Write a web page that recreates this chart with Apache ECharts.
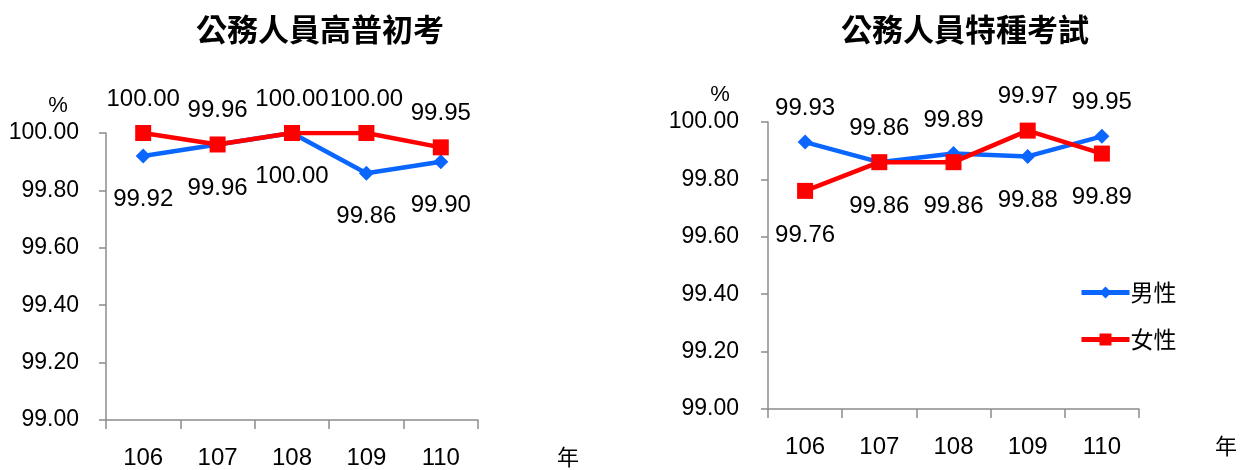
<!DOCTYPE html>
<html>
<head>
<meta charset="utf-8">
<script src="https://cdn.jsdelivr.net/npm/echarts@6/dist/echarts.min.js"></script>
<style>
  html, body { margin: 0; padding: 0; background: #fff; }
  #chart { width: 1241px; height: 470px; }
</style>
</head>
<body>
<div id="chart"></div>
<script>
// Years (ROC calendar) on the category axis
const years = ['106', '107', '108', '109', '110'];

// 公務人員高普初考 — pass rate (%)
const exam1Male = [99.92, 99.96, 100.00, 99.86, 99.90];
const exam1Female = [100.00, 99.96, 100.00, 100.00, 99.95];

// 公務人員特種考試 — pass rate (%)
const exam2Male = [99.93, 99.86, 99.89, 99.88, 99.95];
const exam2Female = [99.76, 99.86, 99.86, 99.97, 99.89];

const titles = ['公務人員高普初考', '公務人員特種考試'];
const seriesNames = ['男性', '女性'];
const yTicks = { min: 99, max: 100, step: 0.2 };

const BLUE = '#0a66ff';
const RED = '#ff0000';
const AXIS = '#8c8c8c';
const FONT = '"Liberation Sans", Arial, sans-serif';
const CJK = '"Noto Sans CJK TC", "Noto Sans CJK SC", sans-serif';

// Higher series at each year gets its label above the marker, the lower one below.
function labelled(values, other, winsTie) {
  return values.map((v, i) => {
    const above = v > other[i] || (v === other[i] && winsTie);
    return {
      value: v,
      label: above ? { position: 'top', distance: 14 } : { position: 'bottom', distance: 24 }
    };
  });
}

const grids = [
  { left: 106, top: 133, width: 372, height: 288 },
  { left: 768, top: 122, width: 371, height: 287 }
];

function xAxis(idx, nameGap) {
  return {
    type: 'category',
    gridIndex: idx,
    data: years,
    boundaryGap: true,
    name: '年',
    nameLocation: 'end',
    nameGap: nameGap,
    nameMoveOverlap: false,
    nameTextStyle: { fontFamily: CJK, fontSize: 22, color: '#000', align: 'left', verticalAlign: 'top', padding: [26, 0, 0, 0] },
    axisLine: { lineStyle: { color: AXIS, width: 1.5 } },
    axisTick: { show: true, length: 9, lineStyle: { color: AXIS, width: 1.5 } },
    axisLabel: { margin: 26, fontFamily: FONT, fontSize: 24, color: '#000' }
  };
}

function yAxis(idx, labelMargin) {
  return {
    type: 'value',
    gridIndex: idx,
    min: yTicks.min,
    max: yTicks.max,
    interval: yTicks.step,
    name: '%',
    nameLocation: 'end',
    nameGap: 16,
    nameTextStyle: { fontFamily: FONT, fontSize: 22, color: '#000', align: 'center', padding: [0, 96, 0, 0] },
    axisLine: { show: true, lineStyle: { color: AXIS, width: 1.5 } },
    axisTick: { show: true, length: 7, lineStyle: { color: AXIS, width: 1.5 } },
    splitLine: { show: false },
    axisLabel: {
      margin: labelMargin,
      fontFamily: FONT, fontSize: 23, color: '#000',
      formatter: v => v.toFixed(2)
    }
  };
}

function lineSeries(name, idx, data, color, symbol, size) {
  return {
    type: 'line',
    name: name,
    xAxisIndex: idx,
    yAxisIndex: idx,
    data: data,
    symbol: symbol,
    symbolSize: size,
    lineStyle: { color: color, width: 4.5 },
    itemStyle: { color: color },
    label: {
      show: true,
      fontFamily: FONT,
      fontSize: 24,
      color: '#000',
      formatter: p => p.value.toFixed(2)
    },
    emphasis: { disabled: true },
    animation: false,
    z: name === seriesNames[1] ? 3 : 2
  };
}

const option = {
  backgroundColor: '#fff',
  animation: false,
  title: [
    { text: titles[0], left: 315, top: 9, textAlign: 'center',
      textStyle: { fontFamily: CJK, fontSize: 31, fontWeight: 'bold', color: '#000' } },
    { text: titles[1], left: 960, top: 9, textAlign: 'center',
      textStyle: { fontFamily: CJK, fontSize: 31, fontWeight: 'bold', color: '#000' } }
  ],
  legend: {
    data: seriesNames,
    orient: 'vertical',
    left: 1074,
    top: 276,
    itemWidth: 48,
    itemHeight: 15,
    itemGap: 24,
    lineStyle: { width: 5 },
    textStyle: { fontFamily: CJK, fontSize: 23, color: '#000', padding: [0, 0, 0, -4] }
  },
  grid: grids,
  xAxis: [xAxis(0, 79), xAxis(1, 76)],
  yAxis: [yAxis(0, 27), yAxis(1, 29)],
  series: [
    lineSeries(seriesNames[0], 0, labelled(exam1Male, exam1Female, false), BLUE, 'diamond', 15),
    lineSeries(seriesNames[1], 0, labelled(exam1Female, exam1Male, true), RED, 'rect', 16),
    lineSeries(seriesNames[0], 1, labelled(exam2Male, exam2Female, true), BLUE, 'diamond', 15),
    lineSeries(seriesNames[1], 1, labelled(exam2Female, exam2Male, false), RED, 'rect', 16)
  ]
};

const chart = echarts.init(document.getElementById('chart'), null, { renderer: 'canvas' });
chart.setOption(option);
</script>
</body>
</html>
